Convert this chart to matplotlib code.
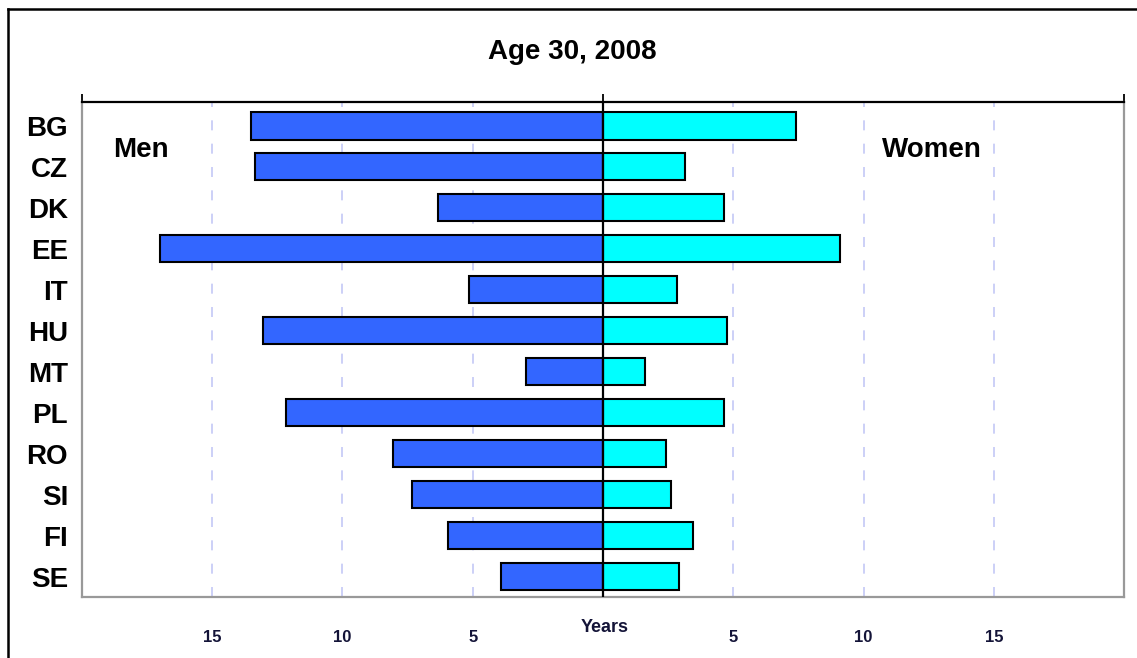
import matplotlib.pyplot as plt
from matplotlib.lines import Line2D

countries = ["BG", "CZ", "DK", "EE", "IT", "HU", "MT", "PL", "RO", "SI", "FI", "SE"]
men = [13.5, 13.35, 6.35, 17.0, 5.15, 13.05, 2.95, 12.15, 8.05, 7.35, 5.95, 3.9]
women = [7.4, 3.15, 4.65, 9.1, 2.85, 4.75, 1.6, 4.65, 2.4, 2.6, 3.45, 2.9]
xticks = [-15, -10, -5, 5, 10, 15]
xticklabels = ["15", "10", "5", "5", "10", "15"]

plt.rcParams['font.family'] = ['Liberation Sans', 'DejaVu Sans']
plt.rcParams['font.weight'] = 'bold'

fig = plt.figure(figsize=(11.37, 6.58), dpi=100)
ax = fig.add_axes([0.0721, 0.0927, 0.9165, 0.7523])

ys = list(range(len(countries)))
ax.barh(ys, [-m for m in men], height=0.66, color="#3366ff", edgecolor="black", linewidth=1.5, zorder=3)
ax.barh(ys, women, height=0.66, color="#00ffff", edgecolor="black", linewidth=1.5, zorder=3)

for g in [-20, -15, -10, -5, 5, 10, 15, 20]:
    ax.axvline(g, color="#c4c8f6", linestyle=(0, (6, 8)), linewidth=1.2, zorder=1)
ax.axvline(0, color="black", linewidth=1.6, zorder=4)

ax.set_xlim(-20, 20)
ax.set_ylim(11.49, -0.585)

ax.set_yticks(ys)
ax.set_yticklabels(countries, fontsize=20, fontweight="bold")
ax.tick_params(axis="y", length=0, pad=10)

ax.set_xticks(xticks)
ax.set_xticklabels(xticklabels, fontsize=12, fontweight="bold", color="#141438")
ax.tick_params(axis="x", which="major", bottom=False, top=False, labeltop=False, pad=20)
ax.set_xticks([-20, -15, -10, -5, 0, 5, 10, 15, 20], minor=True)
ax.tick_params(axis="x", which="minor", bottom=False, top=True, length=6, width=1.3, direction="out")

for s in ["left", "bottom", "right"]:
    ax.spines[s].set_color("#999999")
    ax.spines[s].set_linewidth(1.6)
ax.spines["top"].set_color("black")
ax.spines["top"].set_linewidth(1.6)

ax.text(0.0566, 0.903, "Men", transform=ax.transAxes, fontsize=20, fontweight="bold", ha="center", va="center")
ax.text(0.816, 0.903, "Women", transform=ax.transAxes, fontsize=20, fontweight="bold", ha="center", va="center")

fig.text(0.503, 1 - 52 / 658, "Age 30, 2008", fontsize=20, fontweight="bold", ha="center", va="center")
fig.text(0.532, 1 - 628 / 658, "Years", fontsize=13, fontweight="bold", ha="center", va="center", color="#141438")

# outer frame (left and top edges visible)
fig.add_artist(Line2D([8 / 1137, 8 / 1137], [0, 1 - 9 / 658], transform=fig.transFigure, color="black", linewidth=1.8))
fig.add_artist(Line2D([8 / 1137, 1], [1 - 9 / 658, 1 - 9 / 658], transform=fig.transFigure, color="black", linewidth=1.8))

plt.savefig("out.png", dpi=100)
